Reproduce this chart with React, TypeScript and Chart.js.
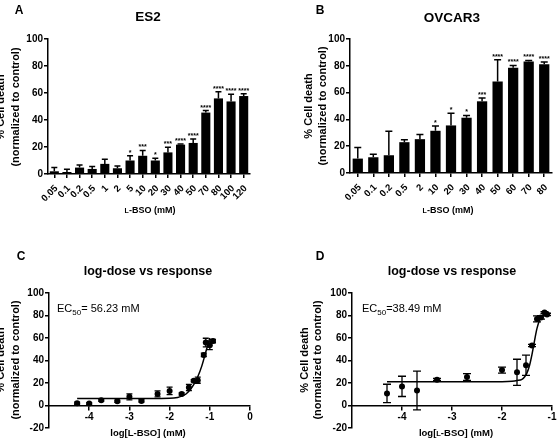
import React, { useEffect, useRef } from 'react';
import { Chart, registerables } from 'chart.js';

Chart.register(...registerables);

const FONT = "'Liberation Sans', Arial, Helvetica, sans-serif";

// ---------- Panel A : ES2 bars ----------
const ES2_DOSES = ['0.05', '0.1', '0.2', '0.5', '1', '2', '5', '10', '20', '30', '40', '50', '70', '80', '100', '120'];
const ES2_DEATH = [2, 1.5, 4.75, 3.75, 7.5, 4.25, 10, 13.5, 10, 16, 21.75, 23, 45.5, 56, 53.75, 57.75];
const ES2_SD = [2.75, 2, 2, 1.75, 3.5, 1.75, 3.5, 4, 1.75, 3.75, 0.5, 3, 1.5, 5, 5.25, 1.75];
const ES2_SIG = ['', '', '', '', '', '', '*', '***', '*', '***', '****', '****', '****', '****', '****', '****'];

// ---------- Panel B : OVCAR3 bars ----------
const OV_DOSES = ['0.05', '0.1', '0.2', '0.5', '2', '10', '20', '30', '40', '50', '60', '70', '80'];
const OV_DEATH = [10.75, 11.75, 13.25, 23, 25.25, 31.5, 35.5, 41.25, 53.5, 68.25, 78.5, 83.25, 81.25];
const OV_SD = [8.25, 2.25, 18, 1.75, 3.5, 3.5, 9, 1.75, 2.5, 16.25, 1.75, 0.75, 1.5];
const OV_SIG = ['', '', '', '', '', '*', '*', '*', '***', '****', '****', '****', '****'];

// ---------- Panel C : ES2 log-dose ----------
const ES2_LOGDOSE = [-4.3, -4, -3.7, -3.3, -3, -2.7, -2.3, -2, -1.7, -1.52, -1.4, -1.3, -1.15, -1.1, -1, -0.92];
const ES2_LOG_RESP = [2, 1.8, 4.7, 3.8, 7.7, 4.1, 10.3, 13, 10.3, 16, 22, 22.5, 45, 56, 53.5, 57.3];
const ES2_LOG_ERR = [1, 0.8, 1, 1, 2.7, 1, 2.7, 3.3, 1, 2.7, 1, 2.7, 1.5, 3.8, 3.8, 1.5];
const ES2_FIT_X = [-4.3, -2.5, -2, -1.8, -1.7, -1.6, -1.5, -1.4, -1.3, -1.2, -1.1, -1.0];
const ES2_FIT_Y = [6.2, 6.2, 6.4, 7.2, 8.3, 10, 13.5, 18.5, 25.5, 35, 47.5, 60];
const ES2_XTICKS = [-4, -3, -2, -1, 0];

// ---------- Panel D : OVCAR3 log-dose ----------
const OV_LOGDOSE = [-4.3, -4, -3.7, -3.3, -2.7, -2, -1.7, -1.52, -1.4, -1.3, -1.22, -1.15, -1.1];
const OV_LOG_RESP = [10.7, 17, 13.3, 23, 25.3, 31.5, 29.5, 35.7, 53.3, 77, 78.3, 82.7, 81];
const OV_LOG_ERR = [8.2, 9, 17.2, 1, 3, 2.7, 11.6, 9, 1, 2.6, 1.5, 0.8, 1];
const OV_FIT_X = [-4.3, -2.5, -2, -1.8, -1.7, -1.6, -1.55, -1.5, -1.45, -1.4, -1.35, -1.3, -1.25, -1.2, -1.15];
const OV_FIT_Y = [21.1, 21.1, 21.2, 21.6, 22.2, 23.2, 25.3, 29, 35.5, 45.5, 57.5, 68.5, 75.5, 79, 80.5];
const OV_XTICKS = [-4, -3, -2, -1];

const Y_BAR_TICKS = { min: 0, max: 100, step: 20 };
const Y_LOG_TICKS = { min: -20, max: 100, step: 20 };

type Part = { text: string; size: number };
type PanelText = {
  letter: string; letterX: number; letterY: number;
  title: string; titleSize: number; titleX: number; titleY: number;
  yX1: number; yX2: number; yY: number;
  xParts: Part[]; xTitleX: number; xTitleY: number;
  ec50?: { x: number; y: number; rest: string };
};

function textPlugin(p: PanelText) {
  return {
    id: 'panelText',
    afterDraw(chart: any) {
      const ctx: CanvasRenderingContext2D = chart.ctx;
      ctx.save();
      ctx.fillStyle = '#000';
      ctx.textAlign = 'center';
      ctx.textBaseline = 'middle';
      ctx.font = `bold 12px ${FONT}`;
      ctx.fillText(p.letter, p.letterX, p.letterY);
      ctx.font = `bold ${p.titleSize}px ${FONT}`;
      ctx.fillText(p.title, p.titleX, p.titleY);
      ctx.font = `bold 11px ${FONT}`;
      const lines: [string, number][] = [['% Cell death', p.yX1], ['(normalized to control)', p.yX2]];
      lines.forEach(([t, x]) => {
        ctx.save();
        ctx.translate(x, p.yY);
        ctx.rotate(-Math.PI / 2);
        ctx.fillText(t, 0, 0);
        ctx.restore();
      });
      // x title with optional small-cap L
      ctx.textAlign = 'left';
      ctx.textBaseline = 'alphabetic';
      let total = 0;
      p.xParts.forEach((pt) => {
        ctx.font = `bold ${pt.size}px ${FONT}`;
        total += ctx.measureText(pt.text).width;
      });
      let cx = p.xTitleX - total / 2;
      p.xParts.forEach((pt) => {
        ctx.font = `bold ${pt.size}px ${FONT}`;
        ctx.fillText(pt.text, cx, p.xTitleY);
        cx += ctx.measureText(pt.text).width;
      });
      if (p.ec50) {
        let ex = p.ec50.x;
        ctx.font = `11px ${FONT}`;
        ctx.fillText('EC', ex, p.ec50.y);
        ex += ctx.measureText('EC').width;
        ctx.font = `8px ${FONT}`;
        ctx.fillText('50', ex, p.ec50.y + 3);
        ex += ctx.measureText('50').width;
        ctx.font = `11px ${FONT}`;
        ctx.fillText(p.ec50.rest, ex, p.ec50.y);
      }
      ctx.restore();
    },
  };
}

function barErrorPlugin(values: number[], sd: number[], stars: string[], capW: number) {
  return {
    id: 'barErr',
    afterDatasetsDraw(chart: any) {
      const xs = chart.scales.x;
      const ys = chart.scales.y;
      const ctx: CanvasRenderingContext2D = chart.ctx;
      ctx.save();
      ctx.strokeStyle = '#000';
      ctx.fillStyle = '#000';
      ctx.lineWidth = 1.5;
      values.forEach((v, i) => {
        const px = xs.getPixelForValue(i);
        const base = ys.getPixelForValue(v);
        const top = ys.getPixelForValue(v + sd[i]);
        ctx.beginPath();
        ctx.moveTo(px, base);
        ctx.lineTo(px, top);
        ctx.moveTo(px - capW / 2, top);
        ctx.lineTo(px + capW / 2, top);
        ctx.stroke();
        if (stars[i]) {
          ctx.font = `bold 7px ${FONT}`;
          ctx.textAlign = 'center';
          ctx.textBaseline = 'alphabetic';
          ctx.fillText(stars[i], px, top - 1);
        }
      });
      ctx.restore();
    },
  };
}

function scatterErrorPlugin(xv: number[], yv: number[], err: number[], capW: number) {
  return {
    id: 'scatErr',
    beforeDatasetsDraw(chart: any) {
      const xs = chart.scales.x;
      const ys = chart.scales.y;
      const ctx: CanvasRenderingContext2D = chart.ctx;
      ctx.save();
      ctx.strokeStyle = '#000';
      ctx.lineWidth = 1.3;
      xv.forEach((x, i) => {
        const px = xs.getPixelForValue(x);
        const t = ys.getPixelForValue(yv[i] + err[i]);
        const b = ys.getPixelForValue(yv[i] - err[i]);
        ctx.beginPath();
        ctx.moveTo(px, t);
        ctx.lineTo(px, b);
        ctx.moveTo(px - capW / 2, t);
        ctx.lineTo(px + capW / 2, t);
        ctx.moveTo(px - capW / 2, b);
        ctx.lineTo(px + capW / 2, b);
        ctx.stroke();
      });
      ctx.restore();
    },
  };
}

const axisGrid = { display: true, drawOnChartArea: false, drawTicks: true, tickLength: 4, color: '#000', lineWidth: 1.5 };
const axisBorder = { display: true, color: '#000', width: 1.5 };

function barChart(labels: string[], values: number[], sd: number[], stars: string[], area: { left: number; right: number; top: number; bottom: number; w: number; h: number }, barPct: number, capW: number, text: PanelText): any {
  return {
    type: 'bar',
    data: {
      labels,
      datasets: [{ data: values, backgroundColor: '#000', borderWidth: 0, barPercentage: barPct, categoryPercentage: 1 }],
    },
    options: {
      animation: false,
      responsive: false,
      events: [],
      layout: { padding: { left: 0, top: area.top, right: area.w - area.right, bottom: 0 } },
      plugins: { legend: { display: false }, tooltip: { enabled: false }, title: { display: false } },
      scales: {
        x: {
          type: 'category',
          offset: true,
          grid: { ...axisGrid, offset: false },
          border: axisBorder,
          ticks: { color: '#000', font: { size: 9.5, weight: 'bold', family: FONT }, minRotation: 45, maxRotation: 45, autoSkip: false, padding: 5, labelOffset: 2 },
          afterFit: (s: any) => { s.height = area.h - area.bottom; },
        },
        y: {
          min: Y_BAR_TICKS.min,
          max: Y_BAR_TICKS.max,
          grid: axisGrid,
          border: axisBorder,
          ticks: { stepSize: Y_BAR_TICKS.step, color: '#000', font: { size: 10, weight: 'bold', family: FONT }, padding: 1 },
          afterFit: (s: any) => { s.width = area.left; },
        },
      },
    },
    plugins: [barErrorPlugin(values, sd, stars, capW), textPlugin(text)],
  };
}

function logChart(xv: number[], yv: number[], err: number[], fitX: number[], fitY: number[], xTicks: number[], xMax: number, area: { left: number; right: number; top: number; bottom: number; w: number; h: number }, capW: number, text: PanelText): any {
  return {
    type: 'scatter',
    data: {
      datasets: [
        {
          data: fitX.map((x, i) => ({ x, y: fitY[i] })),
          showLine: true,
          pointRadius: 0,
          borderColor: '#000',
          borderWidth: 1.5,
          cubicInterpolationMode: 'monotone',
        },
        {
          data: xv.map((x, i) => ({ x, y: yv[i] })),
          pointRadius: 3,
          pointBackgroundColor: '#000',
          pointBorderColor: '#000',
          pointBorderWidth: 0,
        },
      ],
    },
    options: {
      animation: false,
      responsive: false,
      events: [],
      layout: { padding: { left: 0, top: area.top, right: area.w - area.right, bottom: area.h - area.bottom } },
      plugins: { legend: { display: false }, tooltip: { enabled: false }, title: { display: false } },
      scales: {
        x: {
          type: 'linear',
          min: -5,
          max: xMax,
          position: { y: 0 },
          grid: axisGrid,
          border: axisBorder,
          afterBuildTicks: (s: any) => { s.ticks = xTicks.map((v) => ({ value: v })); },
          ticks: { color: '#000', font: { size: 10, weight: 'bold', family: FONT }, padding: 2 },
        },
        y: {
          min: Y_LOG_TICKS.min,
          max: Y_LOG_TICKS.max,
          grid: axisGrid,
          border: axisBorder,
          ticks: { stepSize: Y_LOG_TICKS.step, color: '#000', font: { size: 10, weight: 'bold', family: FONT }, padding: 1 },
          afterFit: (s: any) => { s.width = area.left; },
        },
      },
    },
    plugins: [scatterErrorPlugin(xv, yv, err, capW), textPlugin(text)],
  };
}

function ChartBox({ left, top, width, height, make }: { left: number; top: number; width: number; height: number; make: () => any }) {
  const ref = useRef<HTMLCanvasElement>(null);
  useEffect(() => {
    const chart = new Chart(ref.current as HTMLCanvasElement, make());
    return () => chart.destroy();
  }, []);
  return (
    <canvas
      ref={ref}
      width={width}
      height={height}
      style={{ position: 'absolute', left, top, width, height, display: 'block' }}
    />
  );
}

export default function App() {
  Chart.defaults.font.family = FONT;
  Chart.defaults.color = '#000';
  return (
    <div style={{ position: 'absolute', left: 0, top: 0, width: 559, height: 440, overflow: 'hidden', background: '#fff' }}>
      <ChartBox
        left={0}
        top={0}
        width={280}
        height={220}
        make={() =>
          barChart(ES2_DOSES, ES2_DEATH, ES2_SD, ES2_SIG, { left: 48, right: 250, top: 39, bottom: 174, w: 280, h: 220 }, 0.72, 6, {
            letter: 'A', letterX: 19, letterY: 11,
            title: 'ES2', titleSize: 13.5, titleX: 148, titleY: 17,
            yX1: 0.5, yX2: 15.5, yY: 107,
            xParts: [{ text: 'L', size: 7 }, { text: '-BSO (mM)', size: 9 }], xTitleX: 150, xTitleY: 213,
          })
        }
      />
      <ChartBox
        left={280}
        top={0}
        width={279}
        height={220}
        make={() =>
          barChart(OV_DOSES, OV_DEATH, OV_SD, OV_SIG, { left: 70, right: 272, top: 39, bottom: 173, w: 279, h: 220 }, 0.66, 7, {
            letter: 'B', letterX: 40, letterY: 11,
            title: 'OVCAR3', titleSize: 13.5, titleX: 172, titleY: 18,
            yX1: 29, yX2: 42.5, yY: 106,
            xParts: [{ text: 'L', size: 7 }, { text: '-BSO (mM)', size: 9 }], xTitleX: 168, xTitleY: 213,
          })
        }
      />
      <ChartBox
        left={0}
        top={220}
        width={280}
        height={220}
        make={() =>
          logChart(ES2_LOGDOSE, ES2_LOG_RESP, ES2_LOG_ERR, ES2_FIT_X, ES2_FIT_Y, ES2_XTICKS, 0, { left: 49, right: 250, top: 73, bottom: 208, w: 280, h: 220 }, 6, {
            letter: 'C', letterX: 21, letterY: 37,
            title: 'log-dose vs response', titleSize: 12.5, titleX: 148, titleY: 52,
            yX1: 0.5, yX2: 15.5, yY: 140,
            xParts: [{ text: 'log[L-BSO] (mM)', size: 9.5 }], xTitleX: 148, xTitleY: 215.5,
            ec50: { x: 57, y: 91.5, rest: '= 56.23 mM' },
          })
        }
      />
      <ChartBox
        left={280}
        top={220}
        width={279}
        height={220}
        make={() =>
          logChart(OV_LOGDOSE, OV_LOG_RESP, OV_LOG_ERR, OV_FIT_X, OV_FIT_Y, OV_XTICKS, -1, { left: 72, right: 272, top: 73, bottom: 208, w: 279, h: 220 }, 8, {
            letter: 'D', letterX: 40, letterY: 37,
            title: 'log-dose vs response', titleSize: 12.5, titleX: 172, titleY: 52,
            yX1: 25, yX2: 37.5, yY: 140,
            xParts: [{ text: 'log[', size: 9.5 }, { text: 'L', size: 7.5 }, { text: '-BSO] (mM)', size: 9.5 }], xTitleX: 176, xTitleY: 215.5,
            ec50: { x: 82, y: 91.5, rest: '=38.49 mM' },
          })
        }
      />
    </div>
  );
}
